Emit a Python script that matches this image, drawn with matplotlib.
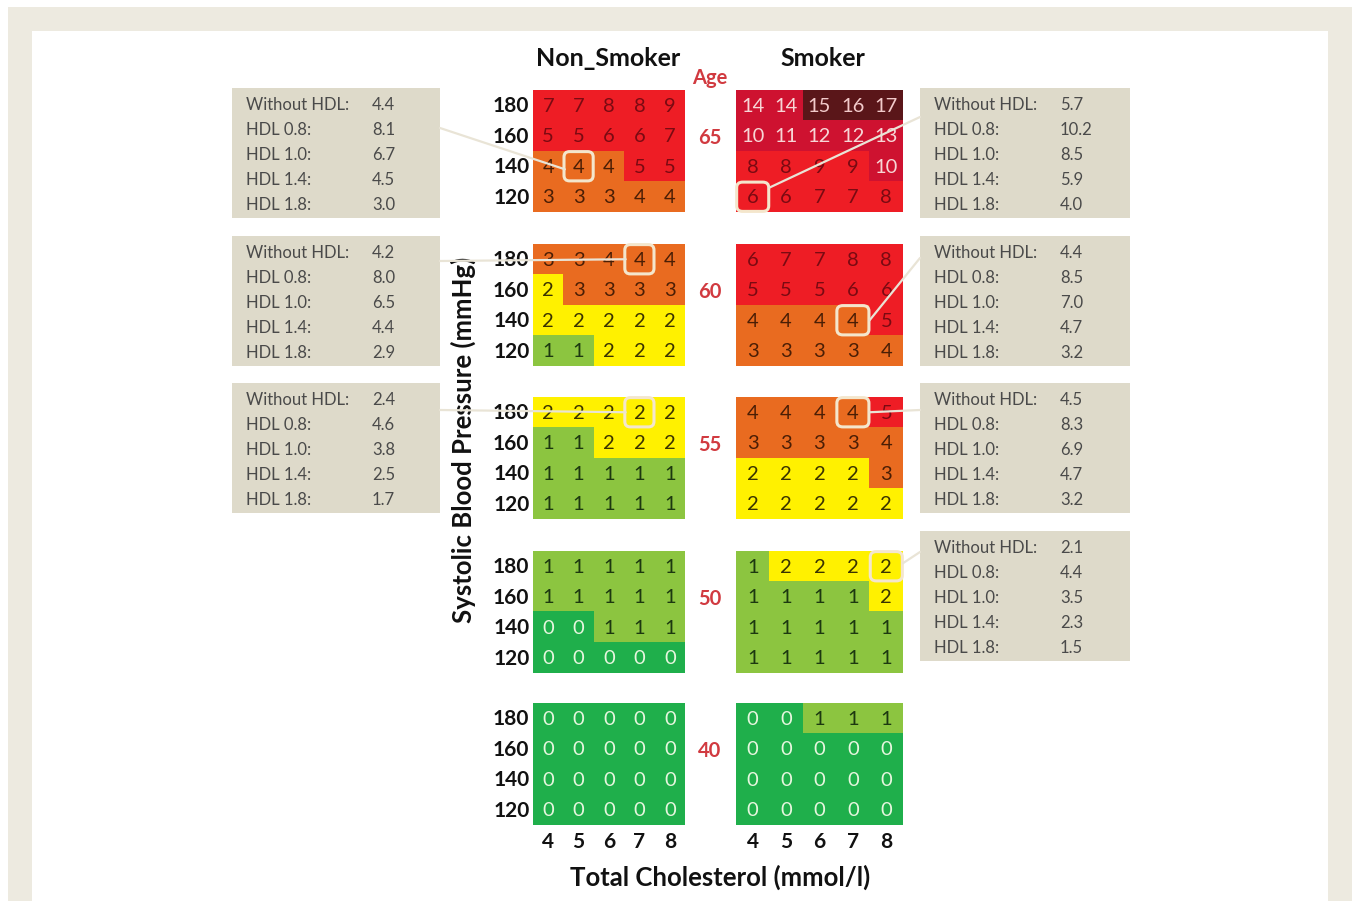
import numpy as np
import matplotlib
matplotlib.use("Agg")
import matplotlib.pyplot as plt
from matplotlib.colors import ListedColormap, BoundaryNorm
from matplotlib.patches import Rectangle, FancyBboxPatch, ConnectionPatch

plt.rcParams['font.family'] = ['Lato', 'DejaVu Sans']

# risk charts, rows = SBP 180, 160, 140, 120 ; cols = cholesterol 4..8
ages = [65, 60, 55, 50, 40]
sbp_labels = ['180', '160', '140', '120']
chol_labels = ['4', '5', '6', '7', '8']

non_smoker = [
    [[7, 7, 8, 8, 9], [5, 5, 6, 6, 7], [4, 4, 4, 5, 5], [3, 3, 3, 4, 4]],
    [[3, 3, 4, 4, 4], [2, 3, 3, 3, 3], [2, 2, 2, 2, 2], [1, 1, 2, 2, 2]],
    [[2, 2, 2, 2, 2], [1, 1, 2, 2, 2], [1, 1, 1, 1, 1], [1, 1, 1, 1, 1]],
    [[1, 1, 1, 1, 1], [1, 1, 1, 1, 1], [0, 0, 1, 1, 1], [0, 0, 0, 0, 0]],
    [[0, 0, 0, 0, 0], [0, 0, 0, 0, 0], [0, 0, 0, 0, 0], [0, 0, 0, 0, 0]],
]
smoker = [
    [[14, 14, 15, 16, 17], [10, 11, 12, 12, 13], [8, 8, 9, 9, 10], [6, 6, 7, 7, 8]],
    [[6, 7, 7, 8, 8], [5, 5, 5, 6, 6], [4, 4, 4, 4, 5], [3, 3, 3, 3, 4]],
    [[4, 4, 4, 4, 5], [3, 3, 3, 3, 4], [2, 2, 2, 2, 3], [2, 2, 2, 2, 2]],
    [[1, 2, 2, 2, 2], [1, 1, 1, 1, 2], [1, 1, 1, 1, 1], [1, 1, 1, 1, 1]],
    [[0, 0, 1, 1, 1], [0, 0, 0, 0, 0], [0, 0, 0, 0, 0], [0, 0, 0, 0, 0]],
]

hdl_labels = ['Without HDL:', 'HDL 0.8:', 'HDL 1.0:', 'HDL 1.4:', 'HDL 1.8:']
left_boxes = [
    ['4.4', '8.1', '6.7', '4.5', '3.0'],
    ['4.2', '8.0', '6.5', '4.4', '2.9'],
    ['2.4', '4.6', '3.8', '2.5', '1.7'],
]
right_boxes = [
    ['5.7', '10.2', '8.5', '5.9', '4.0'],
    ['4.4', '8.5', '7.0', '4.7', '3.2'],
    ['4.5', '8.3', '6.9', '4.7', '3.2'],
    ['2.1', '4.4', '3.5', '2.3', '1.5'],
]
# highlighted cell (grid index, row, col) for each box
left_cells = [(0, 2, 1), (1, 0, 3), (2, 0, 3)]
right_cells = [(0, 3, 0), (1, 2, 3), (2, 0, 3), (3, 0, 4)]

W, H = 1355, 901
fig = plt.figure(figsize=(W / 100, H / 100), dpi=100)
fig.patch.set_facecolor('white')


def fx(x):
    return x / W


def fy(y):
    return 1 - y / H


# frame
fig.patches.append(Rectangle((fx(8), 0), fx(1344), fy(7), transform=fig.transFigure,
                             fc='#EDEAE0', ec='none', zorder=-10))
fig.patches.append(Rectangle((fx(32), 0), fx(1296), fy(31), transform=fig.transFigure,
                             fc='white', ec='none', zorder=-9))

colors = ['#1FAF4B', '#8CC540', '#FFF100', '#E96B20', '#EE1D25', '#CE1230', '#5A1619']
text_cols = ['#E6F6DE', '#1C3810', '#3A3300', '#4A1E05', '#7A0A12', '#F7D6D6', '#F2CACA']
bounds = [-0.5, 0.5, 1.5, 2.5, 4.5, 9.5, 14.5, 100]
cmap = ListedColormap(colors)
norm = BoundaryNorm(bounds, cmap.N)

tops = [90, 244, 397, 551, 703]
gh = 122
grids = {'non': (533, 685), 'smk': (736, 903)}
axes = {'non': [], 'smk': []}

for key, data in (('non', non_smoker), ('smk', smoker)):
    x0, x1 = grids[key]
    for i, top in enumerate(tops):
        ax = fig.add_axes([fx(x0), fy(top + gh), fx(x1 - x0), gh / H])
        arr = np.array(data[i])
        ax.imshow(arr, cmap=cmap, norm=norm, aspect='auto', interpolation='nearest')
        ax.set_axis_off()
        for r in range(arr.shape[0]):
            for c in range(arr.shape[1]):
                k = int(np.digitize(arr[r, c], bounds)) - 1
                ax.text(c, r + 0.04, str(arr[r, c]), ha='center', va='center',
                        fontsize=14.5, color=text_cols[k])
        if key == 'non':
            for r, lab in enumerate(sbp_labels):
                ax.text(-0.62, r + 0.03, lab, ha='right', va='center',
                        fontsize=15, fontweight='bold', color='#111111')
        if i == len(tops) - 1:
            for c, lab in enumerate(chol_labels):
                ax.text(c, 4.05, lab, ha='center', va='center',
                        fontsize=15, fontweight='bold', color='#111111')
        axes[key].append(ax)

# age labels
age_col = '#D13A40'
fig.text(fx(710), fy(78), 'Age', ha='center', va='center', fontsize=14.5,
         fontweight='bold', color=age_col)
for a, top in zip(ages, tops):
    fig.text(fx(710), fy(top + 48), str(a), ha='center', va='center',
             fontsize=14.5, fontweight='bold', color=age_col)

fig.text(fx(608), fy(58), 'Non_Smoker', ha='center', va='center', fontsize=18,
         fontweight='bold', color='#111111')
fig.text(fx(823), fy(58), 'Smoker', ha='center', va='center', fontsize=18,
         fontweight='bold', color='#111111')
fig.text(fx(720), fy(877), 'Total Cholesterol (mmol/l)', ha='center', va='center',
         fontsize=18.5, fontweight='bold', color='#111111')
fig.text(fx(463), fy(440), 'Systolic Blood Pressure (mmHg)', ha='center', va='center',
         rotation=90, fontsize=18.5, fontweight='bold', color='#111111')

box_tops = [88, 236, 383, 531]
box_h = 130
line_col = '#E9E4D6'


def draw_box(x0, x1, top, vals, vx):
    fig.patches.append(Rectangle((fx(x0), fy(top + box_h)), fx(x1 - x0), box_h / H,
                                 transform=fig.transFigure, fc='#DEDACA', ec='none',
                                 zorder=-5))
    for j, (lab, v) in enumerate(zip(hdl_labels, vals)):
        y = fy(top + 17 + 25 * j)
        fig.text(fx(x0 + 14), y, lab, ha='left', va='center', fontsize=12,
                 color='#4A4A4A')
        fig.text(fx(vx), y, v, ha='left', va='center', fontsize=12, color='#4A4A4A')


def highlight(ax, r, c):
    ax.add_patch(FancyBboxPatch((c - 0.44, r - 0.44), 0.88, 0.88,
                                boxstyle='round,pad=0.04,rounding_size=0.18',
                                fill=False, ec='#F4E6CC', lw=2.2, clip_on=False, zorder=4))


def connect(start, end, ax):
    con = ConnectionPatch(xyA=(fx(start[0]), fy(start[1])), coordsA='figure fraction',
                          xyB=end, coordsB='data', axesB=ax,
                          color=line_col, lw=1.6, zorder=5)
    fig.add_artist(con)


# left boxes
left_start = [(440, 128), (440, 261), (440, 410)]
left_end = [(0.55, 2.1), (2.55, 0.0), (2.55, 0.0)]
for b, vals in enumerate(left_boxes):
    draw_box(232, 440, box_tops[b], vals, 372)
    gi, r, c = left_cells[b]
    ax = axes['non'][gi]
    highlight(ax, r, c)
    connect(left_start[b], left_end[b], ax)

# right boxes
right_start = [(920, 117), (920, 258), (920, 410), (920, 552)]
right_end = [(0.5, 2.7), (3.5, 2.0), (3.5, 0.0), (4.5, -0.1)]
for b, vals in enumerate(right_boxes):
    draw_box(920, 1130, box_tops[b], vals, 1060)
    gi, r, c = right_cells[b]
    ax = axes['smk'][gi]
    highlight(ax, r, c)
    connect(right_start[b], right_end[b], ax)

fig.savefig('out.png', dpi=100, facecolor='white')
